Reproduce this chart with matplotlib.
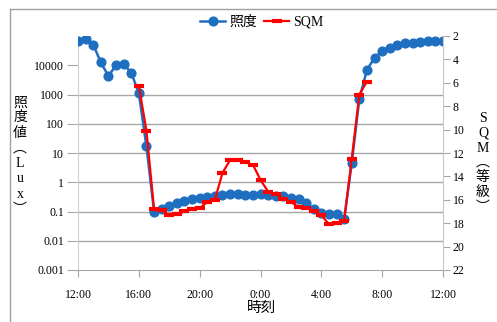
import numpy as np
import matplotlib.pyplot as plt
from matplotlib.lines import Line2D
from matplotlib.ticker import NullLocator

plt.rcParams['font.family'] = ['Liberation Serif', 'Noto Sans CJK JP']

# illuminance (lux), every 30 min from 12:00 to 12:00 next day
lux_times = ['12:00', '12:30', '13:00', '13:30', '14:00', '14:30', '15:00', '15:30',
             '16:00', '16:30', '17:00', '17:30', '18:00', '18:30', '19:00', '19:30',
             '20:00', '20:30', '21:00', '21:30', '22:00', '22:30', '23:00', '23:30',
             '0:00', '0:30', '1:00', '1:30', '2:00', '2:30', '3:00', '3:30',
             '4:00', '4:30', '5:00', '5:30', '6:00', '6:30', '7:00', '7:30',
             '8:00', '8:30', '9:00', '9:30', '10:00', '10:30', '11:00', '11:30', '12:00']
lux_values = [70000, 76000, 51000, 12500, 4300, 10000, 11000, 5600,
              1100, 17, 0.10, 0.125, 0.16, 0.19, 0.23, 0.26,
              0.28, 0.31, 0.34, 0.38, 0.39, 0.39, 0.38, 0.38,
              0.41, 0.38, 0.34, 0.33, 0.30, 0.26, 0.19, 0.12,
              0.09, 0.085, 0.085, 0.055, 4.5, 720, 7000, 18000,
              30000, 40000, 51000, 57000, 58000, 61000, 70000, 70000, 70000]

# SQM sky brightness (magnitude)
sqm_times = ['16:00', '16:30', '17:00', '17:30', '18:00', '18:30', '19:00', '19:30',
             '20:00', '20:30', '21:00', '21:30', '22:00', '22:30', '23:00', '23:30',
             '0:00', '0:30', '1:00', '1:30', '2:00', '2:30', '3:00', '3:30',
             '4:00', '4:30', '5:00', '5:30', '6:00', '6:30', '7:00']
sqm_values = [6.25, 10.1, 16.8, 16.9, 17.3, 17.2, 17.0, 16.8,
              16.7, 16.2, 16.0, 13.7, 12.6, 12.6, 12.8, 13.0,
              14.3, 15.3, 15.5, 15.9, 16.2, 16.6, 16.7, 17.0,
              17.3, 18.1, 18.0, 17.8, 12.5, 7.0, 5.9]

x_ticklabels = ['12:00', '16:00', '20:00', '0:00', '4:00', '8:00', '12:00']
lux_ticks = [0.001, 0.01, 0.1, 1, 10, 100, 1000, 10000]
lux_ticklabels = ['0.001', '0.01', '0.1', '1', '10', '100', '1000', '10000']
sqm_ticks = [2, 4, 6, 8, 10, 12, 14, 16, 18, 20, 22]


def to_hours(times):
    # clock strings -> hours, rolling past midnight
    out, prev, day = [], -1, 0
    for t in times:
        h, m = map(int, t.split(':'))
        v = h + m / 60 + day
        if v < prev:
            day += 24
            v += 24
        out.append(v)
        prev = v
    return np.array(out)


lux_x = to_hours(lux_times)
sqm_x = to_hours(sqm_times)
xt = to_hours(x_ticklabels)

W, H = 497, 322
fig = plt.figure(figsize=(W / 100, H / 100), dpi=100)
ax = fig.add_axes([78 / W, 1 - 270 / H, (443 - 78) / W, (270 - 36) / H])

grid_c = '#a6a6a6'
blue = '#1f6fc0'
red = '#ff0000'

ax.set_yscale('log')
ax.set_ylim(1e-3, 1e5)
ax.set_xlim(xt[0], xt[-1])
for v in lux_ticks[1:-1]:
    ax.axhline(v, color=grid_c, lw=1, zorder=0)

l1, = ax.plot(lux_x, lux_values, color=blue, lw=1.8, marker='o', ms=6.3,
              zorder=3, label='照度')

ax.set_yticks(lux_ticks)
ax.set_yticklabels(lux_ticklabels)
ax.yaxis.set_minor_locator(NullLocator())
ax.set_xticks(xt)
ax.set_xticklabels(x_ticklabels)
ax.tick_params(axis='y', direction='out', length=8, color=grid_c, pad=2, labelsize=8.5)
ax.tick_params(axis='x', direction='out', length=5, color=grid_c, pad=9, labelsize=8.5)
ax.yaxis.get_major_ticks()[-1].tick1line.set_visible(False)

ax2 = ax.twinx()
ax2.set_ylim(22, 2)
l2, = ax2.plot(sqm_x, sqm_values, color=red, lw=1.6, marker='_', ms=7, mew=3,
               label='SQM')
ax2.set_yticks(sqm_ticks)
ax2.tick_params(axis='y', direction='out', length=5, color=grid_c, pad=2, labelsize=8.5)

for a in (ax, ax2):
    a.spines['top'].set_visible(False)
ax.spines['right'].set_visible(False)
ax2.spines['left'].set_visible(False)
ax2.spines['bottom'].set_visible(False)
ax.spines['left'].set_color('#d0d0d0')
ax.spines['bottom'].set_color(grid_c)
ax2.spines['right'].set_color('#c8c8c8')

ax2.legend([l1, l2], ['照度', 'SQM'], loc='center', bbox_to_anchor=(262 / W, 1 - 22 / H),
           bbox_transform=fig.transFigure, ncol=2, frameon=False, fontsize=10,
           handlelength=1.8, columnspacing=0.5, handletextpad=0.3)

fig.text(262 / W, 1 - 308 / H, '時刻', ha='center', va='center', fontsize=10.5)
fig.text(20 / W, 1 - 156 / H, '照\n度\n値\n︵\nL\nu\nx\n︶', ha='center', va='center',
         fontsize=10, linespacing=1.22)
fig.text(483 / W, 1 - 163 / H, 'S\nQ\nM\n︵\n等\n級\n︶', ha='center', va='center',
         fontsize=10, linespacing=1.18)

# chart frame (top and left edges visible)
fig.add_artist(Line2D([10 / W, 1], [1 - 9 / H, 1 - 9 / H], transform=fig.transFigure,
                      color='#a0a0a0', lw=1))
fig.add_artist(Line2D([10 / W, 10 / W], [0, 1 - 9 / H], transform=fig.transFigure,
                      color='#a0a0a0', lw=1))

fig.savefig('out.png', dpi=100)
